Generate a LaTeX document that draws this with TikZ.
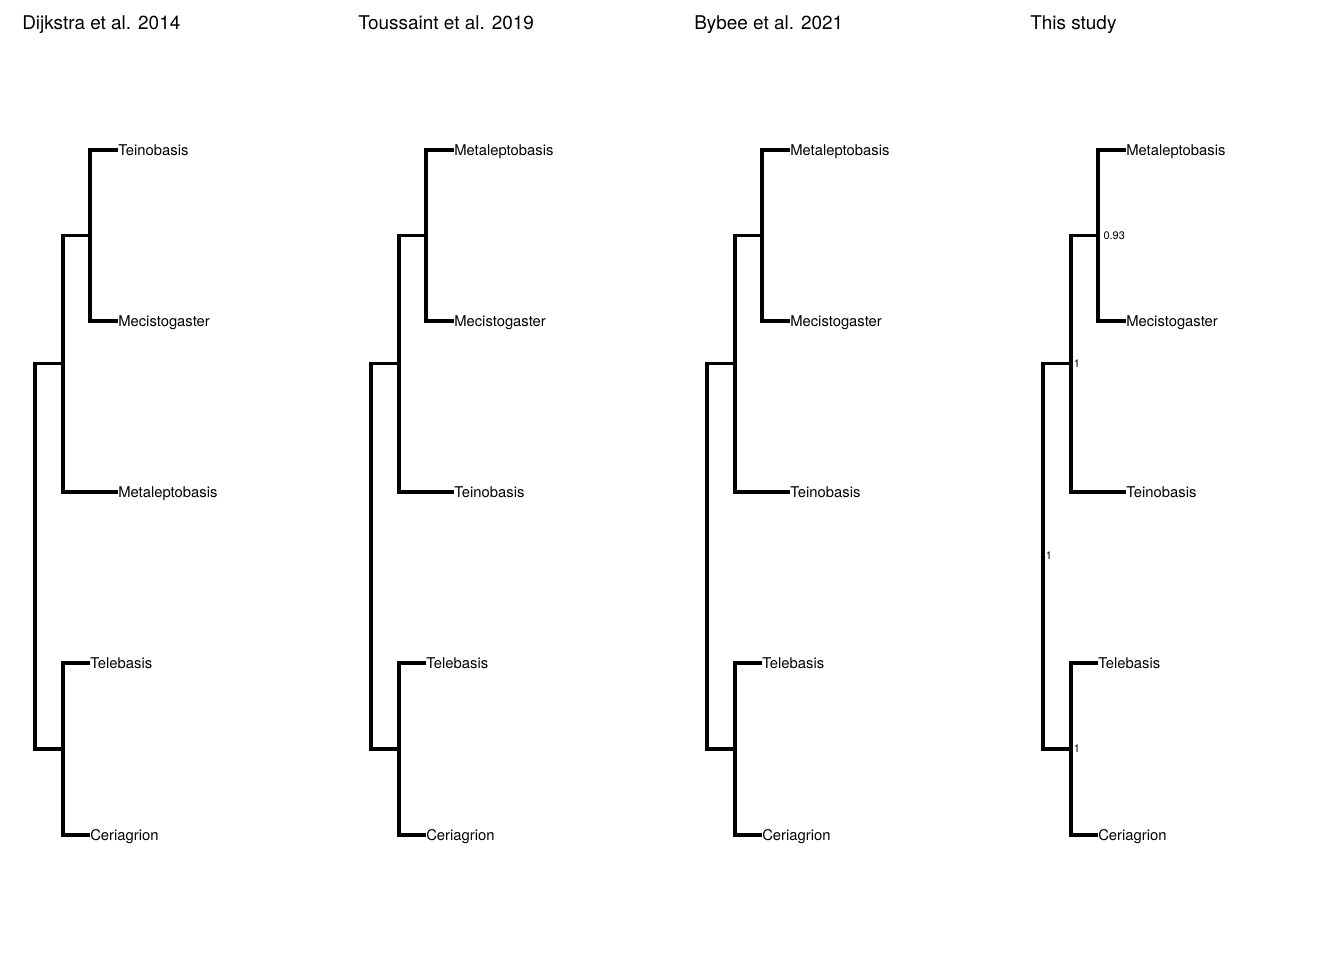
\documentclass[tikz,border=0pt]{standalone}
\usepackage{fontspec}
\setmainfont{TeX Gyre Heros}
\tikzset{
  branch/.style={line width=2.4pt},
  tip/.style={anchor=west,inner sep=0pt,text height=8pt,text depth=0pt,font=\fontsize{11.1}{13}\selectfont},
  support/.style={anchor=west,inner sep=0pt,xshift=2pt,font=\fontsize{8.2}{9}\selectfont},
  paneltitle/.style={anchor=base west,inner sep=0pt,font=\fontsize{14.2}{17}\selectfont}
}
\begin{document}
\begin{tikzpicture}[x=0.75pt,y=0.75pt,yscale=-1]
  \useasboundingbox (0,0) rectangle (1344,960);
  \foreach \p/\title/\ta/\tc in {0/Dijkstra et al. 2014/Teinobasis/Metaleptobasis,
      1/Toussaint et al. 2019/Metaleptobasis/Teinobasis,
      2/Bybee et al. 2021/Metaleptobasis/Teinobasis,
      3/This study/Metaleptobasis/Teinobasis} {
    \begin{scope}[shift={(336*\p,0)}]
      \node[paneltitle] (t\p) at (22,29) {\title};
      % internal nodes at the middle of their vertical bars
      \coordinate (r\p) at (35,556);
      \coordinate (a\p) at (63,363.5);
      \coordinate (b\p) at (63,749);
      \coordinate (c\p) at (90,235.5);
      \node[tip] (la\p) at (118,150) {\ta};
      \node[tip] (lb\p) at (118,321) {Mecistogaster};
      \node[tip] (lc\p) at (118,492) {\tc};
      \node[tip] (ld\p) at (90,663) {Telebasis};
      \node[tip] (le\p) at (90,835) {Ceriagrion};
      \draw[branch] (r\p) |- (a\p) (r\p) |- (b\p)
        (a\p) |- (c\p) (a\p) |- (lc\p.west)
        (c\p) |- (la\p.west) (c\p) |- (lb\p.west)
        (b\p) |- (ld\p.west) (b\p) |- (le\p.west);
    \end{scope}
  }
  % posterior support, this study
  \node[support,xshift=2pt] (sc) at (c3) {0.93};
  \node[support] (sa) at (a3) {1};
  \node[support] (sr) at (r3) {1};
  \node[support] (sb) at (b3) {1};
\end{tikzpicture}
\end{document}
